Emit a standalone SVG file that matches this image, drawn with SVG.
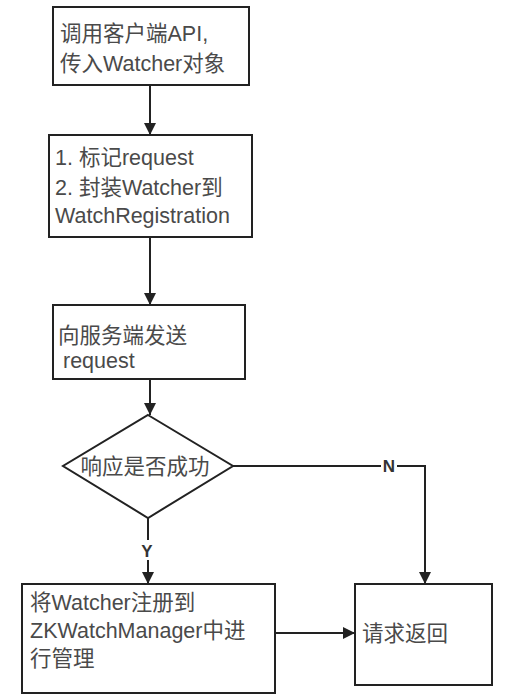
<svg xmlns="http://www.w3.org/2000/svg" width="508" height="698" viewBox="0 0 508 698">
<style>
.box{fill:#fff;stroke:#222;stroke-width:2}
.t{font-family:"Liberation Sans","Noto Sans CJK SC",sans-serif;font-size:21.5px;fill:#4a4a4a}
.lbl{font-family:"Liberation Sans",sans-serif;font-size:17px;font-weight:bold;fill:#333}
.c{fill:none;stroke:#222;stroke-width:2}
</style>
<defs>
<marker id="ah" viewBox="0 0 10 10" refX="10" refY="5" markerWidth="6" markerHeight="6" orient="auto" markerUnits="strokeWidth">
<path d="M0,0 L10,5 L0,10 z" fill="#222"/>
</marker>
</defs>
<rect width="508" height="698" fill="#fff"/>
<g id="connectors">
<path class="c" d="M150,85 V135" marker-end="url(#ah)"/>
<path class="c" d="M150,237 V305" marker-end="url(#ah)"/>
<path class="c" d="M150,379 V415" marker-end="url(#ah)"/>
<path class="c" d="M148,518 V584" marker-end="url(#ah)"/>
<path class="c" d="M233,466 H425 V584" marker-end="url(#ah)"/>
<path class="c" d="M275,633 H355" marker-end="url(#ah)"/>
<rect x="381" y="456" width="16" height="20" fill="#fff"/>
<text class="lbl" x="389" y="472" text-anchor="middle">N</text>
<rect x="139" y="540" width="16" height="20" fill="#fff"/>
<text class="lbl" x="147" y="557" text-anchor="middle">Y</text>
</g>
<g id="n1">
<rect class="box" x="53" y="7" width="196" height="78"/>
<text class="t" x="60" y="41">调用客户端API,</text>
<text class="t" x="60" y="71">传入Watcher对象</text>
</g>
<g id="n2">
<rect class="box" x="49" y="135" width="203" height="102"/>
<text class="t" x="55" y="165">1. 标记request</text>
<text class="t" x="55" y="195">2. 封装Watcher到</text>
<text class="t" x="55" y="223">WatchRegistration</text>
</g>
<g id="n3">
<rect class="box" x="53" y="305" width="192" height="74"/>
<text class="t" x="58" y="343">向服务端发送</text>
<text class="t" x="63" y="368">request</text>
</g>
<g id="n4">
<polygon class="box" points="148,415 233,466 148,518 63,466"/>
<text class="t" x="145" y="474" text-anchor="middle">响应是否成功</text>
</g>
<g id="n5">
<rect class="box" x="22" y="584" width="253" height="109"/>
<text class="t" x="30" y="610">将Watcher注册到</text>
<text class="t" x="30" y="638">ZKWatchManager中进</text>
<text class="t" x="30" y="666">行管理</text>
</g>
<g id="n6">
<rect class="box" x="355" y="584" width="137" height="101"/>
<text class="t" x="362" y="641">请求返回</text>
</g>
</svg>
